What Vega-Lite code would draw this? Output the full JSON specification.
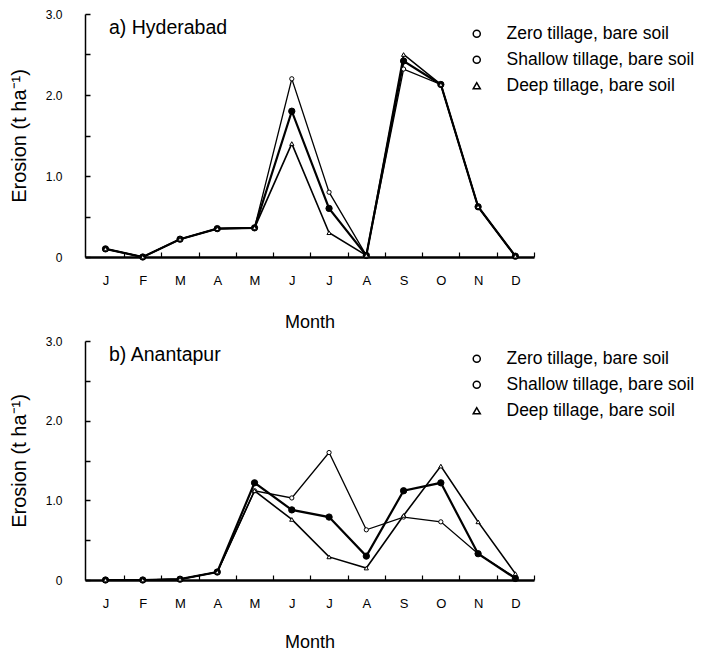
{
  "$schema": "https://vega.github.io/schema/vega-lite/v6.json",
  "padding": {"left": 9, "top": 8, "right": 5, "bottom": 5},
  "background": "white",
  "config": {
    "font": "Liberation Sans",
    "view": {"stroke": null},
    "axis": {"domainColor": "black", "tickColor": "black", "labelColor": "black", "titleColor": "black", "grid": false, "labelFont": "Liberation Sans", "titleFont": "Liberation Sans", "titleFontWeight": "normal"},
    "title": {"font": "Liberation Sans", "fontWeight": "normal", "color": "black"}
  },
  "datasets": {
    "hyd": [
      {"month": 1, "series": "Zero tillage, bare soil", "erosion": 0.1},
      {"month": 2, "series": "Zero tillage, bare soil", "erosion": 0.0},
      {"month": 3, "series": "Zero tillage, bare soil", "erosion": 0.22},
      {"month": 4, "series": "Zero tillage, bare soil", "erosion": 0.35},
      {"month": 5, "series": "Zero tillage, bare soil", "erosion": 0.36},
      {"month": 6, "series": "Zero tillage, bare soil", "erosion": 2.2},
      {"month": 7, "series": "Zero tillage, bare soil", "erosion": 0.8},
      {"month": 8, "series": "Zero tillage, bare soil", "erosion": 0.02},
      {"month": 9, "series": "Zero tillage, bare soil", "erosion": 2.32},
      {"month": 10, "series": "Zero tillage, bare soil", "erosion": 2.13},
      {"month": 11, "series": "Zero tillage, bare soil", "erosion": 0.62},
      {"month": 12, "series": "Zero tillage, bare soil", "erosion": 0.01},
      {"month": 1, "series": "Shallow tillage, bare soil", "erosion": 0.1},
      {"month": 2, "series": "Shallow tillage, bare soil", "erosion": 0.0},
      {"month": 3, "series": "Shallow tillage, bare soil", "erosion": 0.22},
      {"month": 4, "series": "Shallow tillage, bare soil", "erosion": 0.35},
      {"month": 5, "series": "Shallow tillage, bare soil", "erosion": 0.36},
      {"month": 6, "series": "Shallow tillage, bare soil", "erosion": 1.8},
      {"month": 7, "series": "Shallow tillage, bare soil", "erosion": 0.6},
      {"month": 8, "series": "Shallow tillage, bare soil", "erosion": 0.02},
      {"month": 9, "series": "Shallow tillage, bare soil", "erosion": 2.42},
      {"month": 10, "series": "Shallow tillage, bare soil", "erosion": 2.13},
      {"month": 11, "series": "Shallow tillage, bare soil", "erosion": 0.62},
      {"month": 12, "series": "Shallow tillage, bare soil", "erosion": 0.01},
      {"month": 1, "series": "Deep tillage, bare soil", "erosion": 0.1},
      {"month": 2, "series": "Deep tillage, bare soil", "erosion": 0.0},
      {"month": 3, "series": "Deep tillage, bare soil", "erosion": 0.22},
      {"month": 4, "series": "Deep tillage, bare soil", "erosion": 0.35},
      {"month": 5, "series": "Deep tillage, bare soil", "erosion": 0.36},
      {"month": 6, "series": "Deep tillage, bare soil", "erosion": 1.4},
      {"month": 7, "series": "Deep tillage, bare soil", "erosion": 0.3},
      {"month": 8, "series": "Deep tillage, bare soil", "erosion": 0.02},
      {"month": 9, "series": "Deep tillage, bare soil", "erosion": 2.5},
      {"month": 10, "series": "Deep tillage, bare soil", "erosion": 2.13},
      {"month": 11, "series": "Deep tillage, bare soil", "erosion": 0.62},
      {"month": 12, "series": "Deep tillage, bare soil", "erosion": 0.01}
    ],
    "ana": [
      {"month": 1, "series": "Zero tillage, bare soil", "erosion": 0.0},
      {"month": 2, "series": "Zero tillage, bare soil", "erosion": 0.0},
      {"month": 3, "series": "Zero tillage, bare soil", "erosion": 0.01},
      {"month": 4, "series": "Zero tillage, bare soil", "erosion": 0.1},
      {"month": 5, "series": "Zero tillage, bare soil", "erosion": 1.12},
      {"month": 6, "series": "Zero tillage, bare soil", "erosion": 1.03},
      {"month": 7, "series": "Zero tillage, bare soil", "erosion": 1.6},
      {"month": 8, "series": "Zero tillage, bare soil", "erosion": 0.63},
      {"month": 9, "series": "Zero tillage, bare soil", "erosion": 0.79},
      {"month": 10, "series": "Zero tillage, bare soil", "erosion": 0.73},
      {"month": 11, "series": "Zero tillage, bare soil", "erosion": 0.33},
      {"month": 12, "series": "Zero tillage, bare soil", "erosion": 0.03},
      {"month": 1, "series": "Shallow tillage, bare soil", "erosion": 0.0},
      {"month": 2, "series": "Shallow tillage, bare soil", "erosion": 0.0},
      {"month": 3, "series": "Shallow tillage, bare soil", "erosion": 0.01},
      {"month": 4, "series": "Shallow tillage, bare soil", "erosion": 0.1},
      {"month": 5, "series": "Shallow tillage, bare soil", "erosion": 1.22},
      {"month": 6, "series": "Shallow tillage, bare soil", "erosion": 0.88},
      {"month": 7, "series": "Shallow tillage, bare soil", "erosion": 0.79},
      {"month": 8, "series": "Shallow tillage, bare soil", "erosion": 0.3},
      {"month": 9, "series": "Shallow tillage, bare soil", "erosion": 1.12},
      {"month": 10, "series": "Shallow tillage, bare soil", "erosion": 1.22},
      {"month": 11, "series": "Shallow tillage, bare soil", "erosion": 0.33},
      {"month": 12, "series": "Shallow tillage, bare soil", "erosion": 0.02},
      {"month": 1, "series": "Deep tillage, bare soil", "erosion": 0.0},
      {"month": 2, "series": "Deep tillage, bare soil", "erosion": 0.0},
      {"month": 3, "series": "Deep tillage, bare soil", "erosion": 0.01},
      {"month": 4, "series": "Deep tillage, bare soil", "erosion": 0.1},
      {"month": 5, "series": "Deep tillage, bare soil", "erosion": 1.12},
      {"month": 6, "series": "Deep tillage, bare soil", "erosion": 0.76},
      {"month": 7, "series": "Deep tillage, bare soil", "erosion": 0.29},
      {"month": 8, "series": "Deep tillage, bare soil", "erosion": 0.15},
      {"month": 9, "series": "Deep tillage, bare soil", "erosion": 0.81},
      {"month": 10, "series": "Deep tillage, bare soil", "erosion": 1.43},
      {"month": 11, "series": "Deep tillage, bare soil", "erosion": 0.73},
      {"month": 12, "series": "Deep tillage, bare soil", "erosion": 0.08}
    ]
  },
  "spacing": 4,
  "resolve": {"scale": {"shape": "independent"}, "legend": {"shape": "independent"}},
  "vconcat": [
    {
      "width": 449, "height": 243,
      "title": {"text": "a) Hyderabad", "anchor": "start", "frame": "group", "orient": "top", "offset": -30, "dx": 24, "fontSize": 19.5, "baseline": "top"},
      "data": {"name": "hyd"},
      "encoding": {
        "x": {"field": "month", "type": "quantitative", "scale": {"domain": [0.45, 12.5], "nice": false, "zero": false},
          "axis": {"title": "Month", "values": [1, 1.5, 2, 2.5, 3, 3.5, 4, 4.5, 5, 5.5, 6, 6.5, 7, 7.5, 8, 8.5, 9, 9.5, 10, 10.5, 11, 11.5, 12, 12.5],
            "labelExpr": "datum.value % 1 == 0 ? ['J','F','M','A','M','J','J','A','S','O','N','D'][datum.value - 1] : ''",
            "tickOpacity": {"condition": {"test": "datum.value % 1 == 0", "value": 0}, "value": 1},
            "tickSize": -5, "tickWidth": 1.2, "labelPadding": 22, "labelFontSize": 13, "titleFontSize": 18, "titlePadding": 26, "domainWidth": 2.5, "labelOverlap": false, "labelFlush": false}},
        "y": {"field": "erosion", "type": "quantitative", "scale": {"domain": [0, 3], "nice": false},
          "axis": {"title": "Erosion (t ha\u207b\u00b9)", "values": [0, 0.5, 1, 1.5, 2, 2.5, 3],
            "labelExpr": "datum.value == 0 ? '0' : (datum.value % 1 == 0 ? format(datum.value, '.1f') : '')",
            "tickSize": -5, "tickWidth": 1.5, "labelPadding": 28, "labelFontSize": 12, "titleFontSize": 20, "titlePadding": 16, "domainWidth": 1.5, "labelOverlap": false, "labelFlush": false}}
      },
      "layer": [
        {"transform": [{"filter": "datum.series == 'Zero tillage, bare soil'"}], "mark": {"type": "line", "color": "black", "strokeWidth": 1.3}, "encoding": {}},
        {"transform": [{"filter": "datum.series == 'Deep tillage, bare soil'"}], "mark": {"type": "line", "color": "black", "strokeWidth": 1.6}, "encoding": {}},
        {"transform": [{"filter": "datum.series == 'Shallow tillage, bare soil'"}], "mark": {"type": "line", "color": "black", "strokeWidth": 2.2}, "encoding": {}},
        {"mark": {"type": "point", "filled": true, "stroke": "black", "strokeWidth": 1, "opacity": 1},
          "encoding": {
            "size": {"condition": {"test": "datum.series == 'Shallow tillage, bare soil'", "value": 40}, "value": 18},
            "fill": {"condition": {"test": "datum.series == 'Shallow tillage, bare soil'", "value": "black"}, "value": "white"},
            "shape": {"field": "series", "type": "nominal", "scale": {"domain": ["Zero tillage, bare soil", "Shallow tillage, bare soil", "Deep tillage, bare soil"], "range": ["circle", "circle", "triangle-up"]},
              "legend": {"orient": "none", "legendX": 383, "legendY": 11, "title": null, "symbolSize": 50, "labelOffset": 21, "labelFontSize": 17.5, "labelFont": "Liberation Sans", "labelColor": "black", "labelLimit": 300, "rowPadding": 7}}
          }}
      ]
    },
    {
      "width": 449, "height": 239,
      "title": {"text": "b) Anantapur", "anchor": "start", "frame": "group", "orient": "top", "offset": -30, "dx": 24, "fontSize": 19.5, "baseline": "top"},
      "data": {"name": "ana"},
      "encoding": {
        "x": {"field": "month", "type": "quantitative", "scale": {"domain": [0.45, 12.5], "nice": false, "zero": false},
          "axis": {"title": "Month", "values": [1, 1.5, 2, 2.5, 3, 3.5, 4, 4.5, 5, 5.5, 6, 6.5, 7, 7.5, 8, 8.5, 9, 9.5, 10, 10.5, 11, 11.5, 12, 12.5],
            "labelExpr": "datum.value % 1 == 0 ? ['J','F','M','A','M','J','J','A','S','O','N','D'][datum.value - 1] : ''",
            "tickOpacity": {"condition": {"test": "datum.value % 1 == 0", "value": 0}, "value": 1},
            "tickSize": -5, "tickWidth": 1.2, "labelPadding": 22, "labelFontSize": 13, "titleFontSize": 18, "titlePadding": 23, "domainWidth": 2.5, "labelOverlap": false, "labelFlush": false}},
        "y": {"field": "erosion", "type": "quantitative", "scale": {"domain": [0, 3], "nice": false},
          "axis": {"title": "Erosion (t ha\u207b\u00b9)", "values": [0, 0.5, 1, 1.5, 2, 2.5, 3],
            "labelExpr": "datum.value == 0 ? '0' : (datum.value % 1 == 0 ? format(datum.value, '.1f') : '')",
            "tickSize": -5, "tickWidth": 1.5, "labelPadding": 28, "labelFontSize": 12, "titleFontSize": 20, "titlePadding": 16, "domainWidth": 1.5, "labelOverlap": false, "labelFlush": false}}
      },
      "layer": [
        {"transform": [{"filter": "datum.series == 'Zero tillage, bare soil'"}], "mark": {"type": "line", "color": "black", "strokeWidth": 1.3}, "encoding": {}},
        {"transform": [{"filter": "datum.series == 'Deep tillage, bare soil'"}], "mark": {"type": "line", "color": "black", "strokeWidth": 1.6}, "encoding": {}},
        {"transform": [{"filter": "datum.series == 'Shallow tillage, bare soil'"}], "mark": {"type": "line", "color": "black", "strokeWidth": 2.2}, "encoding": {}},
        {"mark": {"type": "point", "filled": true, "stroke": "black", "strokeWidth": 1, "opacity": 1},
          "encoding": {
            "size": {"condition": {"test": "datum.series == 'Shallow tillage, bare soil'", "value": 40}, "value": 18},
            "fill": {"condition": {"test": "datum.series == 'Shallow tillage, bare soil'", "value": "black"}, "value": "white"},
            "shape": {"field": "series", "type": "nominal", "scale": {"domain": ["Zero tillage, bare soil", "Shallow tillage, bare soil", "Deep tillage, bare soil"], "range": ["circle", "circle", "triangle-up"]},
              "legend": {"orient": "none", "legendX": 383, "legendY": 9, "title": null, "symbolSize": 50, "labelOffset": 21, "labelFontSize": 17.5, "labelFont": "Liberation Sans", "labelColor": "black", "labelLimit": 300, "rowPadding": 7}}
          }}
      ]
    }
  ]
}
